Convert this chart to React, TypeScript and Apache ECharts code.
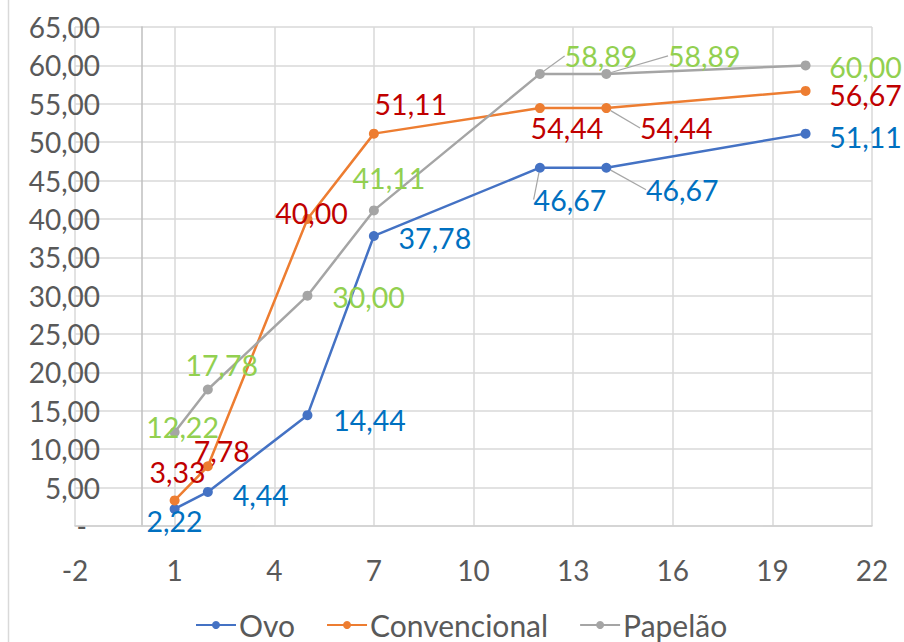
import React, { useEffect, useRef } from "react";
import * as echarts from "echarts";

const xValues = [1, 2, 5, 7, 12, 14, 20];
const seriesNames = ["Ovo", "Convencional", "Papelão"];
const ovo = [2.22, 4.44, 14.44, 37.78, 46.67, 46.67, 51.11];
const convencional = [3.33, 7.78, 40.0, 51.11, 54.44, 54.44, 56.67];
const papelao = [12.22, 17.78, 30.0, 41.11, 58.89, 58.89, 60.0];

const lineColors = ["#4472C4", "#ED7D31", "#A5A5A5"];
const labelColors = ["#0070C0", "#C00000", "#92D050"];

// label placement (offset from point centre) per series / point
const ovoOffsets = [[0, 12], [53, 3], [62, 5], [61, 2], [30, 32], [76, 22], [60, 3]];
const convOffsets = [[3, -28], [14, -15], [4, -6], [37, -30], [27, 20], [70, 20], [60, 4]];
const papOffsets = [[8, -5], [14, -25], [61, 1], [15, -32], [61, -18], [98, -18], [60, 2]];
const ovoLeaders = [false, false, false, false, true, true, false];
const convLeaders = [false, false, false, false, false, true, false];
const papLeaders = [false, false, false, false, true, true, false];

const FONT = "Lato, 'Open Sans', sans-serif";

const fmt = (v: number) => v.toFixed(2).replace(".", ",");

export default function App() {
  const ref = useRef<HTMLDivElement>(null);
  useEffect(() => {
    if (!ref.current) return;
    const chart = echarts.init(ref.current, null, { renderer: "svg" });
    const allValues = [ovo, convencional, papelao];
    const allOffsets = [ovoOffsets, convOffsets, papOffsets];
    const allLeaders = [ovoLeaders, convLeaders, papLeaders];

    const series = allValues.map((vals, si) => ({
      name: seriesNames[si],
      type: "line",
      symbol: "circle",
      symbolSize: 10,
      lineStyle: { width: 2.5, color: lineColors[si] },
      itemStyle: { color: lineColors[si] },
      labelLine: {
        show: false,
        lineStyle: { color: "#A6A6A6", width: 1.2 },
      },
      data: vals.map((v, i) => ({
        value: [xValues[i], v],
        label: {
          show: true,
          position: "inside",
          formatter: () => fmt(v),
          color: labelColors[si],
          fontSize: 28.5,
          fontFamily: FONT,
        },
        labelLine: { show: allLeaders[si][i] },
      })),
      labelLayout: (params: any) => {
        const i = params.dataIndex;
        return { dx: allOffsets[si][i][0], dy: allOffsets[si][i][1] };
      },
    }));

    chart.setOption({
      animation: false,
      backgroundColor: "#ffffff",
      textStyle: { fontFamily: FONT },
      grid: {
        left: 75,
        right: 32,
        top: 27,
        bottom: 116,
        containLabel: false,
        outerBoundsMode: "none",
      },
      xAxis: {
        type: "value",
        min: -2,
        max: 22,
        interval: 3,
        axisLine: { show: true, lineStyle: { color: "#D0D0D0", width: 1.5 } },
        axisTick: { show: false },
        axisLabel: {
          color: "#595959",
          fontSize: 28,
          fontFamily: FONT,
          margin: 30,
        },
        splitLine: { show: true, lineStyle: { color: "#D9D9D9", width: 1.5 } },
      },
      yAxis: {
        type: "value",
        min: 0,
        max: 65,
        interval: 5,
        axisLine: { show: true, onZero: true, lineStyle: { color: "#BFBFBF", width: 1.5 } },
        axisTick: { show: false },
        axisLabel: {
          color: "#595959",
          fontSize: 28,
          fontFamily: FONT,
          margin: -25,
          formatter: (v: number) => (v === 0 ? "{d|-}" : fmt(v)),
          rich: {
            d: { color: "#595959", fontSize: 28, fontFamily: FONT, padding: [0, 13, 0, 0] },
          },
        },
        splitLine: { show: true, lineStyle: { color: "#D9D9D9", width: 1.5 } },
      },
      legend: {
        top: 604,
        left: 190,
        itemWidth: 40,
        itemHeight: 10,
        itemGap: 31,
        textStyle: {
          color: "#595959",
          fontSize: 30,
          lineHeight: 32,
          fontFamily: FONT,
          padding: [0, 0, 0, -2],
        },
        data: seriesNames,
      },
      graphic: [
        {
          type: "line",
          shape: { x1: 8.5, y1: 0, x2: 8.5, y2: 642 },
          style: { stroke: "#D9D9D9", lineWidth: 1.5 },
        },
      ],
      series,
    });
    return () => chart.dispose();
  }, []);
  return (
    <div
      ref={ref}
      style={{ position: "fixed", left: 0, top: 0, width: 904, height: 642 }}
    />
  );
}
